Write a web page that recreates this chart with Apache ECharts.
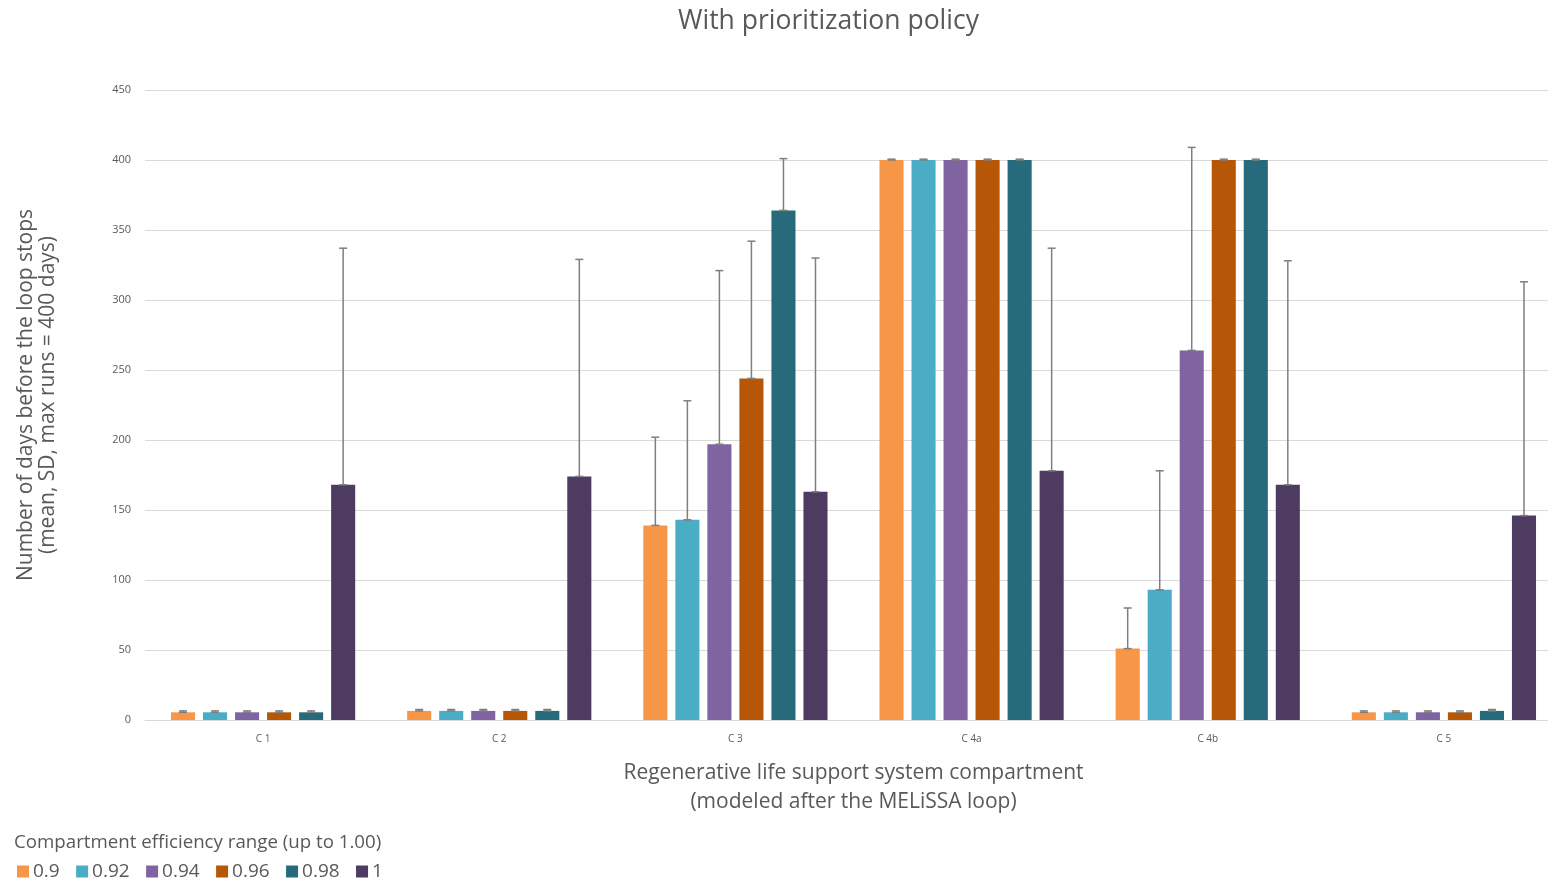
<!DOCTYPE html>
<html>
<head>
<meta charset="utf-8">
<title>With prioritization policy</title>
<script src="https://cdn.jsdelivr.net/npm/echarts@6/dist/echarts.min.js"></script>
<style>
  html, body { margin: 0; padding: 0; background: #ffffff; }
  #chart { width: 1548px; height: 882px; }
</style>
</head>
<body>
<div id="chart"></div>
<script>
// Compartments of the loop and efficiency levels
const categories = ['C 1', 'C 2', 'C 3', 'C 4a', 'C 4b', 'C 5'];
const efficiencies = ['0.9', '0.92', '0.94', '0.96', '0.98', '1'];

// Mean number of days before the loop stops, per efficiency level
const mean_0_90 = [5.5, 6.5, 139, 400, 51, 5.5];
const mean_0_92 = [5.5, 6.5, 143, 400, 93, 5.5];
const mean_0_94 = [5.5, 6.5, 197, 400, 264, 5.5];
const mean_0_96 = [5.5, 6.5, 244, 400, 400, 5.5];
const mean_0_98 = [5.5, 6.5, 364, 400, 400, 6.5];
const mean_1_00 = [168, 174, 163, 178, 168, 146];

// Standard deviations (drawn upward from the mean)
const sd_0_90 = [1, 1, 63, 0.6, 29, 1];
const sd_0_92 = [1, 1, 85, 0.6, 85, 1];
const sd_0_94 = [1, 1, 124, 0.6, 145, 1];
const sd_0_96 = [1, 1, 98, 0.6, 0.6, 1];
const sd_0_98 = [1, 1, 37, 0.6, 0.6, 1];
const sd_1_00 = [169, 155, 167, 159, 160, 167];

const yTicks = [0, 50, 100, 150, 200, 250, 300, 350, 400, 450];

const means = [mean_0_90, mean_0_92, mean_0_94, mean_0_96, mean_0_98, mean_1_00];
const sds = [sd_0_90, sd_0_92, sd_0_94, sd_0_96, sd_0_98, sd_1_00];
const colors = ['#F79646', '#4BACC6', '#8064A2', '#B65708', '#276A7C', '#4D3B62'];

const CAT_GAP = 0.22;
const BAR_GAP = 0.33;
const FONT = '"Open Sans", "Noto Sans", sans-serif';
const TEXT = '#595959';

const barSeries = efficiencies.map((name, i) => ({
  name: name,
  type: 'bar',
  data: means[i],
  itemStyle: { color: colors[i] },
  barGap: (BAR_GAP * 100) + '%',
  barCategoryGap: (CAT_GAP * 100) + '%'
}));

// Error bars: vertical whisker from mean to mean + SD with caps at both ends
const errorSeries = efficiencies.map((name, i) => ({
  name: name + ' SD',
  type: 'custom',
  z: 5,
  clip: false,
  data: categories.map((c, k) => [k, means[i][k], means[i][k] + sds[i][k]]),
  renderItem: function (params, api) {
    const k = api.value(0);
    const band = api.size([1, 0])[0];
    const n = efficiencies.length;
    const barW = band * (1 - CAT_GAP) / (n + (n - 1) * BAR_GAP);
    const total = n * barW + (n - 1) * barW * BAR_GAP;
    const offset = -total / 2 + i * barW * (1 + BAR_GAP) + barW / 2;
    const lo = api.coord([k, api.value(1)]);
    const hi = api.coord([k, api.value(2)]);
    const x = lo[0] + offset;
    const cap = 4;
    const style = { stroke: '#7F7F7F', lineWidth: 1.5, fill: null };
    return {
      type: 'group',
      children: [
        { type: 'line', shape: { x1: x, y1: lo[1], x2: x, y2: hi[1] }, style: style },
        { type: 'line', shape: { x1: x - cap, y1: hi[1], x2: x + cap, y2: hi[1] }, style: style },
        { type: 'line', shape: { x1: x - cap, y1: lo[1], x2: x + cap, y2: lo[1] }, style: style }
      ]
    };
  }
}));

const chart = echarts.init(document.getElementById('chart'));
chart.setOption({
  backgroundColor: '#ffffff',
  animation: false,
  title: [
    {
      text: 'With prioritization policy',
      left: 673,
      top: 3,
      textStyle: { fontFamily: FONT, fontSize: 26.5, fontWeight: 'normal', color: TEXT }
    },
    {
      text: 'Compartment efficiency range (up to 1.00)',
      left: 9,
      top: 828,
      textStyle: { fontFamily: FONT, fontSize: 18.7, fontWeight: 'normal', color: TEXT }
    }
  ],
  legend: {
    data: efficiencies,
    left: 12,
    top: 857,
    icon: 'rect',
    itemWidth: 12,
    itemHeight: 12,
    itemGap: 16.4,
    textStyle: { fontFamily: FONT, fontSize: 19, color: TEXT, padding: [0, 0, 0, -1] }
  },
  grid: { left: 145, width: 1417, top: 90, bottom: 162, containLabel: false, outerBoundsMode: 'none' },
  xAxis: {
    type: 'category',
    data: categories,
    axisLine: { lineStyle: { color: '#D9D9D9', width: 1 } },
    axisTick: { show: false },
    axisLabel: { fontFamily: FONT, fontSize: 10, color: TEXT, margin: 14 },
    name: 'Regenerative life support system compartment\n(modeled after the MELiSSA loop)',
    nameLocation: 'middle',
    nameGap: 39,
    nameTextStyle: { fontFamily: FONT, fontSize: 21, color: TEXT, lineHeight: 29 }
  },
  yAxis: {
    type: 'value',
    min: 0,
    max: 450,
    interval: 50,
    axisLine: { show: false },
    axisTick: { show: false },
    splitLine: { lineStyle: { color: '#D9D9D9', width: 1 } },
    axisLabel: {
      fontFamily: FONT, fontSize: 11, color: TEXT, margin: 14,
      formatter: v => (yTicks.indexOf(v) >= 0 ? String(v) : '')
    },
    name: 'Number of days before the loop stops\n(mean, SD, max runs = 400 days)',
    nameLocation: 'middle',
    nameGap: 86,
    nameTextStyle: { fontFamily: FONT, fontSize: 21, color: TEXT, lineHeight: 22, padding: [0, 0, 0, 20] }
  },
  series: barSeries.concat(errorSeries)
});
</script>
</body>
</html>
